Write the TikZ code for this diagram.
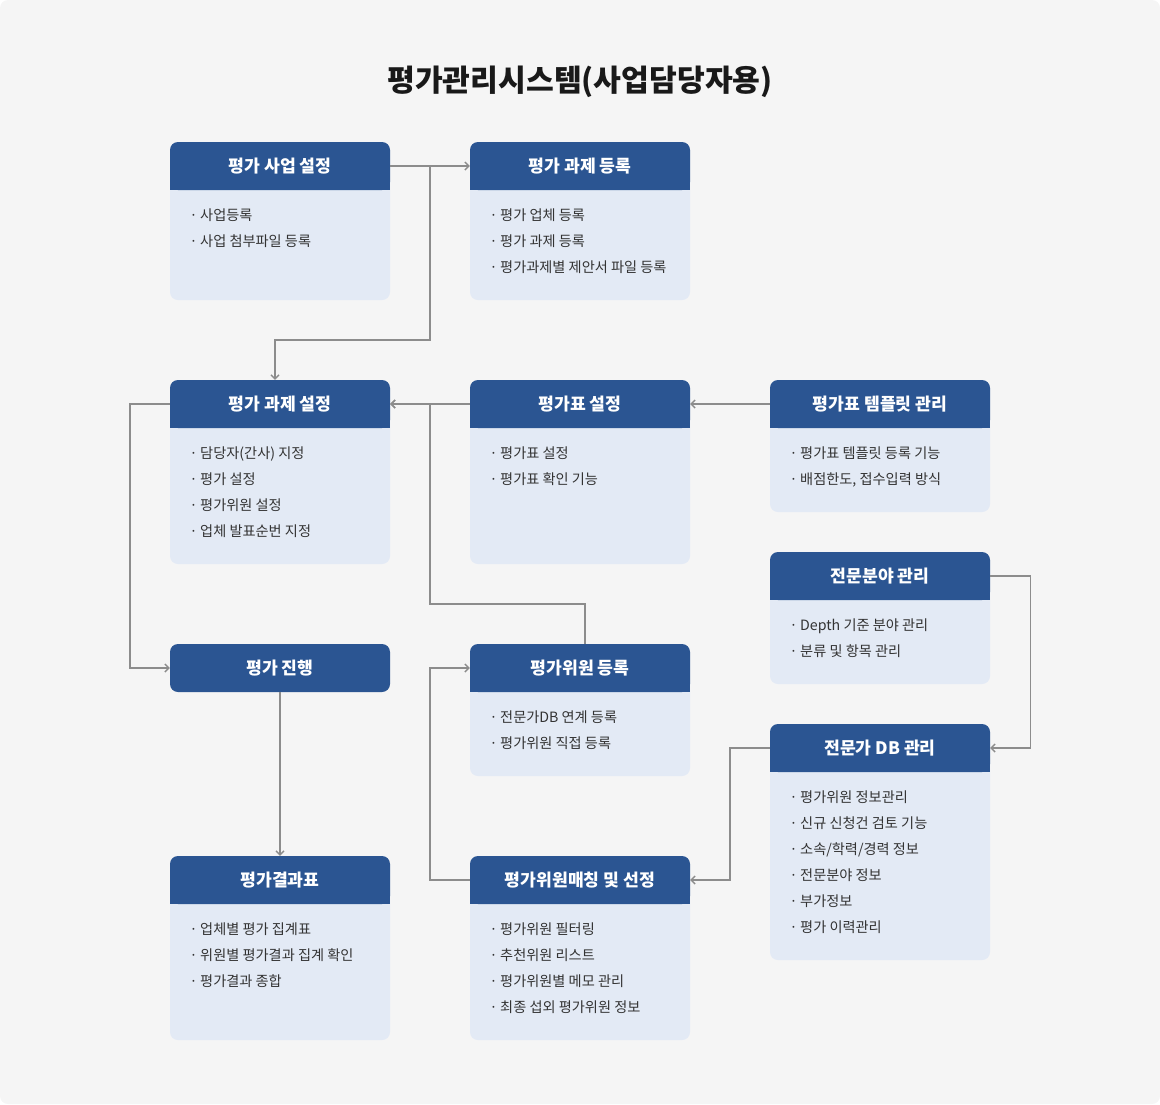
\documentclass[tikz,border=0pt]{standalone}
\usepackage{fontspec}
\setmainfont{Noto Sans CJK KR}
\usepackage{tikz}
\usetikzlibrary{arrows.meta}
\definecolor{PageGray}{HTML}{F5F5F5}
\definecolor{HeadBlue}{HTML}{2B5592}
\definecolor{BodyBlue}{HTML}{E3EAF5}
\definecolor{LinkGray}{HTML}{8C8C8C}
\definecolor{TextGray}{HTML}{333333}

\newcommand{\dotitem}{\makebox[7pt][c]{·}\hspace{3pt}}
% name, center x, top y, bottom y, title, items
\newcommand{\evbox}[6]{
	\fill [BodyBlue, rounded corners=8pt] (#2-110, #3) rectangle (#2+110, #4);
	\fill [HeadBlue] (#2-110, #3+24) rectangle (#2+110, #3+48);
	\node [head] (#1) at (#2, #3+24) {#5};
	\foreach \txt [count=\n] in {#6}
		\node [item] (#1-\n) at (#2-90, #3+52+26*\n) {\dotitem\txt};
}

\begin{document}
\begin{tikzpicture}[x=1pt, y=-1pt,
		head/.style={fill=HeadBlue, rounded corners=8pt, minimum width=220pt, minimum height=48pt, inner sep=0pt, text=white, font=\fontsize{17.2}{20}\selectfont\bfseries},
		item/.style={anchor=base west, inner sep=0pt, text=TextGray, font=\fontsize{14.2}{17}\selectfont},
		link/.style={draw=LinkGray, line width=1.4pt, -{Straight Barb[length=4pt, width=8pt]}}]
		\useasboundingbox (0, 0) rectangle (1160, 1104);
		\fill [PageGray, rounded corners=8pt] (0, 0) rectangle (1160, 1104);
		
		\node [text=black!90, font=\fontsize{30.2}{36}\selectfont\bfseries] (title) at (580, 82) {평가관리시스템(사업담당자용)};
		
		\evbox{saup}{280}{142}{300}{평가 사업 설정}{사업등록, 사업 첨부파일 등록}
		\evbox{gwaje}{580}{142}{300}{평가 과제 등록}{평가 업체 등록, 평가 과제 등록, 평가과제별 제안서 파일 등록}
		\evbox{setup}{280}{380}{564}{평가 과제 설정}{{담당자(간사) 지정}, 평가 설정, 평가위원 설정, 업체 발표순번 지정}
		\evbox{pyo}{580}{380}{564}{평가표 설정}{평가표 설정, 평가표 확인 기능}
		\evbox{tmpl}{880}{380}{512}{평가표 템플릿 관리}{평가표 템플릿 등록 기능, {배점한도, 접수입력 방식}}
		\evbox{field}{880}{552}{684}{전문분야 관리}{Depth 기준 분야 관리, 분류 및 항목 관리}
		\evbox{reg}{580}{644}{776}{평가위원 등록}{전문가DB 연계 등록, 평가위원 직접 등록}
		\evbox{db}{880}{724}{960}{전문가 DB 관리}{평가위원 정보관리, 신규 신청건 검토 기능, 소속/학력/경력 정보, 전문분야 정보, 부가정보, 평가 이력관리}
		\evbox{result}{280}{856}{1040}{평가결과표}{업체별 평가 집계표, 위원별 평가결과 집계 확인, 평가결과 종합}
		\evbox{match}{580}{856}{1040}{평가위원매칭 및 선정}{평가위원 필터링, 추천위원 리스트, 평가위원별 메모 관리, 최종 섭외 평가위원 정보}
		\node [head] (prog) at (280, 668) {평가 진행};
		
		\coordinate (j1) at (430, 166);
		\draw [link] (saup.east) -- (gwaje.west);
		\draw [link] (j1) |- (275, 340) -| ([xshift=-5pt]setup.north);
		\draw [link] (pyo.west) -- (setup.east);
		\draw [link] ([xshift=5pt]reg.north) |- (430, 604) |- (setup.east);
		\draw [link] (tmpl.west) -- (pyo.east);
		\draw [link] (setup.west) -- ++(-40, 0) |- (prog.west);
		\draw [link] (prog.south) -- (result.north);
		\draw [link] (match.west) -- ++(-40, 0) |- (reg.west);
		\draw [link] (field.east) -- ++(40, 0) |- (db.east);
		\draw [link] (db.west) -- ++(-40, 0) |- (match.east);
	\end{tikzpicture}
\end{document}
